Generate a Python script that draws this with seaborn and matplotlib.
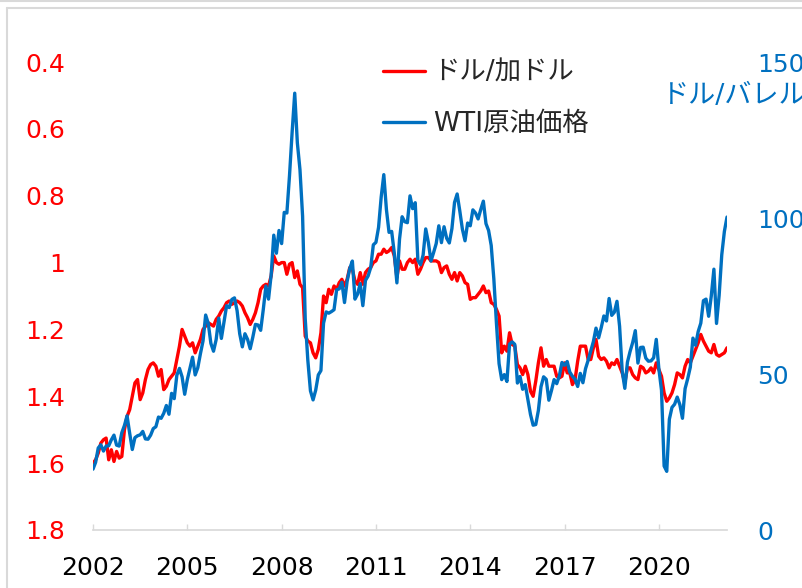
import numpy as np
import pandas as pd
import seaborn as sns
import matplotlib.pyplot as plt
from matplotlib.lines import Line2D

# monthly, Jan 2002 - Mar 2022
usdcad = [
    1.60, 1.59, 1.57, 1.54, 1.53, 1.525, 1.59, 1.56, 1.595, 1.565, 1.585, 1.58,   # 2002
    1.50, 1.46, 1.44, 1.40, 1.36, 1.35, 1.41, 1.39, 1.35, 1.32, 1.305, 1.30,      # 2003
    1.31, 1.34, 1.32, 1.38, 1.37, 1.35, 1.34, 1.33, 1.29, 1.25, 1.20, 1.22,       # 2004
    1.24, 1.25, 1.24, 1.27, 1.25, 1.23, 1.20, 1.19, 1.18, 1.185, 1.19, 1.17,      # 2005
    1.16, 1.145, 1.135, 1.12, 1.115, 1.125, 1.12, 1.115, 1.12, 1.13, 1.15, 1.165, # 2006
    1.185, 1.17, 1.15, 1.12, 1.08, 1.07, 1.065, 1.07, 1.04, 0.98, 1.00, 1.005,    # 2007
    1.00, 1.00, 1.035, 1.005, 1.00, 1.045, 1.025, 1.065, 1.075, 1.22, 1.235, 1.24,  # 2008
    1.27, 1.285, 1.26, 1.21, 1.10, 1.12, 1.08, 1.095, 1.07, 1.08, 1.06, 1.05,     # 2009
    1.07, 1.05, 1.015, 1.02, 1.055, 1.065, 1.03, 1.065, 1.03, 1.02, 1.015, 1.00,  # 2010
    0.995, 0.975, 0.975, 0.96, 0.97, 0.965, 0.955, 0.98, 1.045, 0.995, 1.02, 1.02,  # 2011
    1.00, 0.99, 1.00, 0.99, 1.035, 1.02, 1.00, 0.985, 0.985, 0.995, 0.995, 0.995,   # 2012
    1.00, 1.03, 1.015, 1.01, 1.035, 1.05, 1.03, 1.055, 1.03, 1.04, 1.06, 1.065,   # 2013
    1.11, 1.105, 1.105, 1.095, 1.085, 1.07, 1.09, 1.085, 1.12, 1.125, 1.14, 1.16, # 2014
    1.27, 1.25, 1.265, 1.21, 1.245, 1.25, 1.305, 1.315, 1.335, 1.31, 1.335, 1.385,  # 2015
    1.40, 1.355, 1.30, 1.255, 1.31, 1.29, 1.31, 1.31, 1.31, 1.34, 1.345, 1.34,    # 2016
    1.30, 1.33, 1.33, 1.365, 1.35, 1.295, 1.25, 1.25, 1.25, 1.29, 1.29, 1.255,    # 2017
    1.23, 1.28, 1.29, 1.285, 1.295, 1.315, 1.30, 1.305, 1.29, 1.31, 1.33, 1.36,   # 2018
    1.315, 1.315, 1.335, 1.345, 1.35, 1.31, 1.315, 1.33, 1.325, 1.315, 1.33, 1.30,  # 2019
    1.32, 1.34, 1.39, 1.415, 1.405, 1.39, 1.365, 1.33, 1.335, 1.345, 1.31, 1.29,  # 2020
    1.30, 1.28, 1.26, 1.24, 1.215, 1.235, 1.25, 1.265, 1.27, 1.245, 1.275, 1.28,  # 2021
    1.275, 1.27, 1.255,                                                           # 2022
]
wti = [
    19.5, 21.7, 26.3, 27.3, 25.3, 26.9, 27.0, 28.9, 30.4, 27.2, 26.9, 31.2,
    33.5, 36.6, 31.0, 25.8, 29.6, 30.2, 30.5, 31.6, 29.2, 29.1, 30.4, 32.5,
    33.1, 36.2, 35.8, 37.4, 39.9, 37.1, 43.8, 42.1, 49.6, 51.8, 49.1, 43.5,
    48.2, 51.8, 55.4, 49.7, 52.0, 56.5, 60.6, 68.9, 66.2, 59.8, 57.3, 61.0,
    67.9, 61.4, 66.6, 71.9, 71.3, 73.9, 74.4, 70.3, 62.9, 58.7, 62.9, 61.1,
    58.1, 61.8, 65.9, 65.7, 64.0, 70.7, 78.2, 74.0, 81.7, 94.5, 88.7, 96.0,
    91.8, 101.8, 101.6, 113.5, 127.4, 140.0, 124.1, 115.5, 100.6, 67.8, 54.4, 44.6,
    41.7, 44.8, 49.7, 51.1, 66.3, 69.9, 69.5, 70.0, 70.6, 77.0, 77.3, 79.4,
    72.9, 79.7, 83.8, 86.2, 74.0, 75.6, 79.0, 71.9, 80.0, 81.4, 84.1, 91.4,
    92.2, 97.0, 106.7, 113.9, 102.7, 95.4, 95.7, 88.8, 79.2, 93.2, 100.4, 98.8,
    98.5, 107.1, 103.0, 104.9, 86.5, 85.0, 88.1, 96.5, 92.2, 86.2, 88.9, 91.8,
    97.5, 92.1, 97.2, 93.5, 92.0, 96.6, 105.0, 107.7, 102.3, 96.4, 92.7, 98.4,
    97.5, 102.6, 101.6, 99.7, 102.7, 105.4, 98.2, 96.0, 91.2, 80.5, 66.2, 53.3,
    48.2, 49.8, 47.6, 59.6, 60.3, 59.5, 47.1, 49.2, 45.1, 46.6, 41.7, 37.0,
    33.6, 33.8, 38.3, 45.9, 49.1, 48.3, 41.6, 44.7, 48.2, 46.9, 49.4, 53.7,
    52.8, 54.0, 50.6, 49.3, 48.3, 46.0, 50.2, 47.2, 51.7, 54.4, 57.4, 60.4,
    64.7, 61.6, 64.9, 68.6, 67.0, 74.2, 68.8, 69.8, 73.3, 65.3, 50.9, 45.4,
    53.8, 57.2, 60.1, 63.9, 53.5, 58.5, 58.6, 55.1, 54.1, 54.2, 55.2, 61.1,
    51.6, 44.8, 20.5, 18.8, 35.5, 39.3, 40.3, 42.6, 40.2, 35.8, 45.3, 48.5,
    52.2, 61.5, 59.2, 63.6, 66.3, 73.5, 74.0, 68.5, 75.0, 83.6, 66.2, 75.2,
    88.2, 95.7, 100.3,
]
year_ticks = [2002, 2005, 2008, 2011, 2014, 2017, 2020]
left_ticks = [0.4, 0.6, 0.8, 1.0, 1.2, 1.4, 1.6, 1.8]
left_labels = ["0.4", "0.6", "0.8", "1", "1.2", "1.4", "1.6", "1.8"]
right_ticks = [0, 50, 100, 150]

RED = "#ff0000"
BLUE = "#0070c0"
GREY = "#d9d9d9"

sns.set_theme(style="white")
plt.rcParams["font.family"] = ["DejaVu Sans", "Noto Sans CJK JP"]

months = pd.date_range("2002-01-01", periods=len(usdcad), freq="MS")
df = pd.DataFrame({
    "t": months.year + (months.month - 1) / 12,
    "usdcad": usdcad,
    "wti": wti,
})

W, H = 802, 588
fig = plt.figure(figsize=(W / 100, H / 100), dpi=100)
ax = fig.add_axes([93 / W, 1 - 530 / H, (727 - 93) / W, (530 - 62) / H])
ax2 = ax.twinx()

sns.lineplot(data=df, x="t", y="usdcad", ax=ax, color=RED, lw=2.4)
sns.lineplot(data=df, x="t", y="wti", ax=ax2, color=BLUE, lw=2.4)

ax.set_xlim(df["t"].iloc[0], df["t"].iloc[-1])
ax.set_ylim(1.8, 0.4)
ax2.set_ylim(0, 150)

ax.set_xticks(year_ticks)
ax.set_xticklabels([str(y) for y in year_ticks])
ax.set_yticks(left_ticks)
ax.set_yticklabels(left_labels)
ax2.set_yticks(right_ticks)

for a in (ax, ax2):
    a.set_xlabel("")
    a.set_ylabel("")
    a.grid(False)
    for s in ("top", "left", "right"):
        a.spines[s].set_visible(False)
ax.spines["bottom"].set_color(GREY)
ax2.spines["bottom"].set_visible(False)

ax.tick_params(axis="x", direction="in", length=4, width=1, color=GREY,
               labelsize=18, labelcolor="black", pad=19, bottom=True)
ax.tick_params(axis="y", length=0, labelsize=18, labelcolor=RED, pad=20)
ax2.tick_params(axis="y", length=0, labelsize=18, labelcolor=BLUE, pad=22)

fig.text(662 / W, 1 - 96 / H, "ドル/バレル", color=BLUE, fontsize=19.5,
         ha="left", va="center")

handles = [ax.lines[0], ax2.lines[0]]
ax2.legend(handles, ["ドル/加ドル", "WTI原油価格"], loc="upper left",
           bbox_to_anchor=(383 / W, 1 - 60 / H), bbox_transform=fig.transFigure,
           frameon=False, fontsize=19, handlelength=1.6, handletextpad=0.3,
           labelspacing=0.95, borderpad=0, borderaxespad=0)

# outer frame of the chart
fig.add_artist(Line2D([0, 1], [1 - 1 / H, 1 - 1 / H], color=GREY, lw=1.5))
fig.add_artist(Line2D([7 / W, 1], [1 - 8 / H, 1 - 8 / H], color=GREY, lw=1.5))
fig.add_artist(Line2D([7 / W, 7 / W], [0, 1 - 8 / H], color=GREY, lw=1.5))

fig.savefig("out.png", dpi=100)
